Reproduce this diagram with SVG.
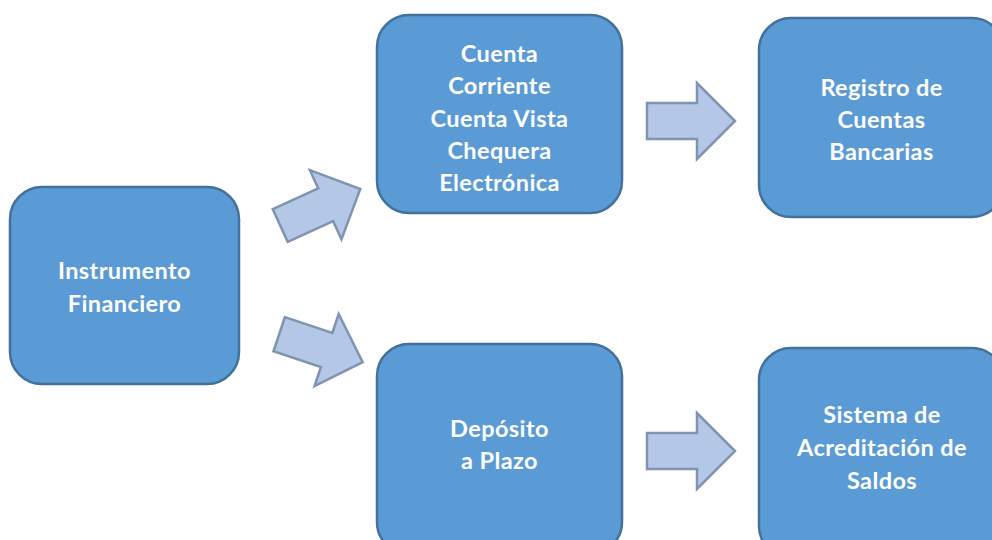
<svg xmlns="http://www.w3.org/2000/svg" width="992" height="540" viewBox="0 0 992 540">
<defs>
<style>
.box{fill:#5B9BD5;stroke:#41719C;stroke-width:2.5}
.lbl{font-family:Lato,"Open Sans","Liberation Sans",sans-serif;font-weight:bold;font-size:23.5px;letter-spacing:0.4px;fill:#FFFFFF;text-anchor:middle}
.arr{fill:#B4C7E7;stroke:#7F94B0;stroke-width:2.5;stroke-linejoin:miter}
</style>
<path id="arrow" d="M0,-18 L50,-18 L50,-38 L88,0 L50,38 L50,18 L0,18 Z"/>
</defs>
<rect width="992" height="540" fill="#FFFFFF"/>
<g id="connectors">
<use href="#arrow" class="arr" transform="translate(280.2,225.5) rotate(-24.5)"/>
<use href="#arrow" class="arr" transform="translate(279.2,334.2) rotate(18.5)"/>
<use href="#arrow" class="arr" transform="translate(647,121)"/>
<use href="#arrow" class="arr" transform="translate(647,451)"/>
</g>
<g id="instrumento">
<rect class="box" x="10" y="187" width="229" height="197" rx="32"/>
<text class="lbl" x="124.5" y="279">Instrumento</text>
<text class="lbl" x="124.5" y="311.5">Financiero</text>
</g>
<g id="cuenta">
<rect class="box" x="377" y="15" width="245" height="198" rx="32"/>
<text class="lbl" x="499.5" y="62.3">Cuenta</text>
<text class="lbl" x="499.5" y="94.4">Corriente</text>
<text class="lbl" x="499.5" y="126.5">Cuenta Vista</text>
<text class="lbl" x="499.5" y="158.6">Chequera</text>
<text class="lbl" x="499.5" y="190.7">Electrónica</text>
</g>
<g id="registro">
<rect class="box" x="759" y="18" width="245" height="199" rx="32"/>
<text class="lbl" x="881.5" y="96">Registro de</text>
<text class="lbl" x="881.5" y="128.2">Cuentas</text>
<text class="lbl" x="881.5" y="160.4">Bancarias</text>
</g>
<g id="deposito">
<rect class="box" x="377" y="344" width="245" height="210" rx="32"/>
<text class="lbl" x="499.5" y="437.3">Depósito</text>
<text class="lbl" x="499.5" y="468.8">a Plazo</text>
</g>
<g id="sistema">
<rect class="box" x="759" y="348" width="245" height="210" rx="32"/>
<text class="lbl" x="882" y="423.3">Sistema de</text>
<text class="lbl" x="882" y="456.3">Acreditación de</text>
<text class="lbl" x="882" y="489.3">Saldos</text>
</g>
</svg>
